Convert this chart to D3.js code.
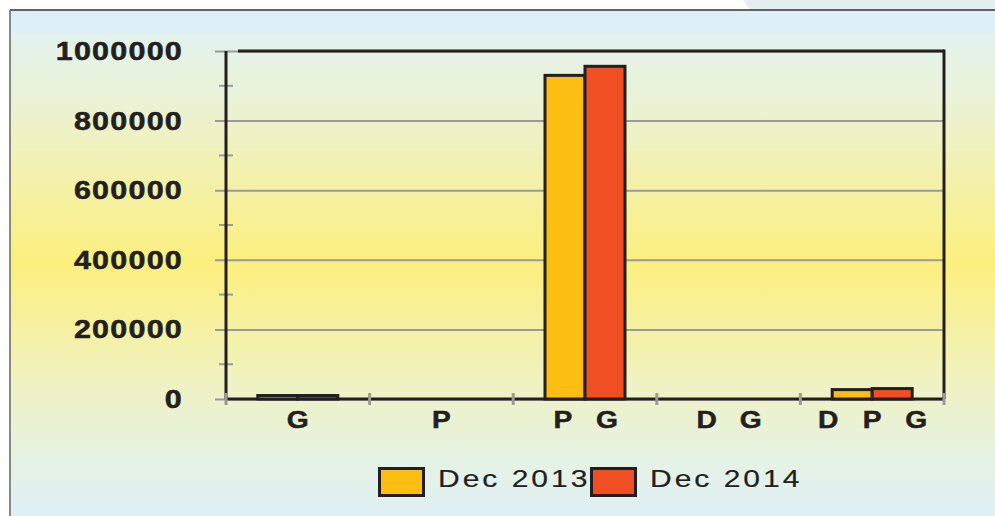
<!DOCTYPE html>
<html>
<head>
<meta charset="utf-8">
<script src="https://cdn.jsdelivr.net/npm/d3@7"></script>
<style>
  body { margin: 0; background: #fff; }
  text { font-family: "Liberation Sans", Arial, sans-serif; fill: #231f20; }
</style>
</head>
<body>
<div id="chart"></div>
<script>
const categories = ["G", "P", "P G", "D G", "D P G"];
const seriesNames = ["Dec 2013", "Dec 2014"];
const dec2013 = [10000, 0, 930000, 0, 27000];
const dec2014 = [10000, 0, 956000, 0, 30000];
const majorTicks = [0, 200000, 400000, 600000, 800000, 1000000];
const minorTicks = [100000, 300000, 500000, 700000, 900000];
const colors = ["#fdbe13", "#f04f23"];

const W = 995, H = 516;
const plot = { left: 226, right: 944, top: 51, bottom: 399 };

const svg = d3.select("#chart").append("svg")
    .attr("width", W)
    .attr("height", H);

// background panel
const defs = svg.append("defs");
const grad = defs.append("linearGradient")
    .attr("id", "bg").attr("x1", 0).attr("y1", 0).attr("x2", 0).attr("y2", 1);
[[0, "#ddeff8"], [0.04, "#ddeff8"], [0.05, "#e3f2ec"], [0.18, "#ebf2d6"],
 [0.5, "#fcef7d"], [0.75, "#eff2c6"], [0.9, "#e5f2e6"], [1, "#dff0f6"]]
    .forEach(s => grad.append("stop").attr("offset", s[0]).attr("stop-color", s[1]));

svg.append("path")
    .attr("d", "M743,0 L995,0 L995,10 L750,10 Z")
    .attr("fill", "#e3f0ef");
svg.append("rect")
    .attr("x", 10).attr("y", 10).attr("width", W - 10).attr("height", H - 10)
    .attr("fill", "url(#bg)");
svg.append("line").attr("x1", 10).attr("x2", W).attr("y1", 10).attr("y2", 10)
    .attr("stroke", "#333").attr("stroke-width", 1.5);
svg.append("line").attr("x1", 10).attr("x2", 10).attr("y1", 10).attr("y2", H)
    .attr("stroke", "#666").attr("stroke-width", 1.5);

const x = d3.scaleBand()
    .domain(categories)
    .range([plot.left, plot.right])
    .padding(0);

const x1 = d3.scaleBand()
    .domain(seriesNames)
    .range([x.bandwidth() / 2 - 40, x.bandwidth() / 2 + 40]);

const y = d3.scaleLinear()
    .domain([0, 1000000])
    .range([plot.bottom, plot.top]);

// gridlines + major ticks
const grid = svg.append("g")
    .attr("transform", `translate(${plot.left - 11},0)`)
    .call(d3.axisLeft(y).tickValues(majorTicks).tickSize(-(plot.right - plot.left + 11)).tickFormat(""));
grid.select(".domain").remove();
grid.selectAll("line").attr("stroke", "#9a9a9a").attr("stroke-width", 2);

// minor ticks
svg.selectAll("line.minor")
    .data(minorTicks)
    .enter().append("line")
    .attr("class", "minor")
    .attr("x1", plot.left - 7).attr("x2", plot.left + 7)
    .attr("y1", d => y(d)).attr("y2", d => y(d))
    .attr("stroke", "#9a9a9a").attr("stroke-width", 2);

// y labels
svg.selectAll("text.ylab")
    .data(majorTicks)
    .enter().append("text")
    .attr("class", "ylab")
    .attr("transform", d => `translate(183,${y(d) + 9}) scale(1.22,1)`)
    .attr("text-anchor", "end")
    .attr("font-size", 25)
    .attr("font-weight", "bold")
    .attr("letter-spacing", 1)
    .attr("stroke", "#231f20")
    .attr("stroke-width", 0.5)
    .text(d => d);

// frame
const frame = svg.append("g").attr("stroke", "#231f20").attr("stroke-width", 3).attr("fill", "none");
frame.append("line").attr("x1", plot.left + 12).attr("x2", plot.right).attr("y1", plot.top).attr("y2", plot.top);
frame.append("line").attr("x1", plot.right).attr("x2", plot.right).attr("y1", plot.top - 1.5).attr("y2", plot.bottom);
frame.append("line").attr("x1", plot.left).attr("x2", plot.left).attr("y1", plot.top).attr("y2", plot.bottom);
frame.append("line").attr("x1", plot.left).attr("x2", plot.right).attr("y1", plot.bottom).attr("y2", plot.bottom);

// x category ticks
const bounds = categories.map(c => x(c)).concat([plot.right]);
svg.selectAll("line.xtick")
    .data(bounds)
    .enter().append("line")
    .attr("class", "xtick")
    .attr("x1", d => d).attr("x2", d => d)
    .attr("y1", plot.bottom - 6).attr("y2", plot.bottom + 6)
    .attr("stroke", "#9a9a9a").attr("stroke-width", 3);

// bars
const values = [dec2013, dec2014];
const groups = svg.selectAll("g.cat")
    .data(categories)
    .enter().append("g")
    .attr("class", "cat")
    .attr("transform", d => `translate(${x(d)},0)`);

groups.selectAll("rect")
    .data((d, i) => seriesNames.map((s, j) => ({ s, v: values[j][i], j })))
    .enter().append("rect")
    .attr("x", d => x1(d.s))
    .attr("y", d => y(d.v))
    .attr("width", x1.bandwidth())
    .attr("height", d => plot.bottom - y(d.v))
    .attr("fill", d => colors[d.j])
    .attr("stroke", "#231f20")
    .attr("stroke-width", 3);

// x labels: letters spread out
groups.each(function(d) {
    const parts = d.split(" ");
    const g = d3.select(this);
    parts.forEach((p, k) => {
        const cx = x.bandwidth() / 2 + (k - (parts.length - 1) / 2) * 44;
        g.append("text")
            .attr("transform", `translate(${cx},428) scale(1.2,1)`)
            .attr("text-anchor", "middle")
            .attr("font-size", 23.5)
            .attr("font-weight", "bold")
            .attr("stroke", "#231f20")
            .attr("stroke-width", 0.5)
            .text(p);
    });
});

// legend
const legendX = [379.5, 591.5];
const legend = svg.selectAll("g.legend")
    .data(seriesNames)
    .enter().append("g")
    .attr("class", "legend")
    .attr("transform", (d, i) => `translate(${legendX[i]},468.5)`);
legend.append("rect")
    .attr("width", 44).attr("height", 27)
    .attr("fill", (d, i) => colors[i])
    .attr("stroke", "#231f20").attr("stroke-width", 3);
legend.append("text")
    .attr("transform", "translate(58.5,18.5) scale(1.25,1)")
    .attr("font-size", 24)
    .attr("letter-spacing", 2.4)
    .attr("stroke", "#231f20")
    .attr("stroke-width", 0.2)
    .text(d => d);
</script>
</body>
</html>
